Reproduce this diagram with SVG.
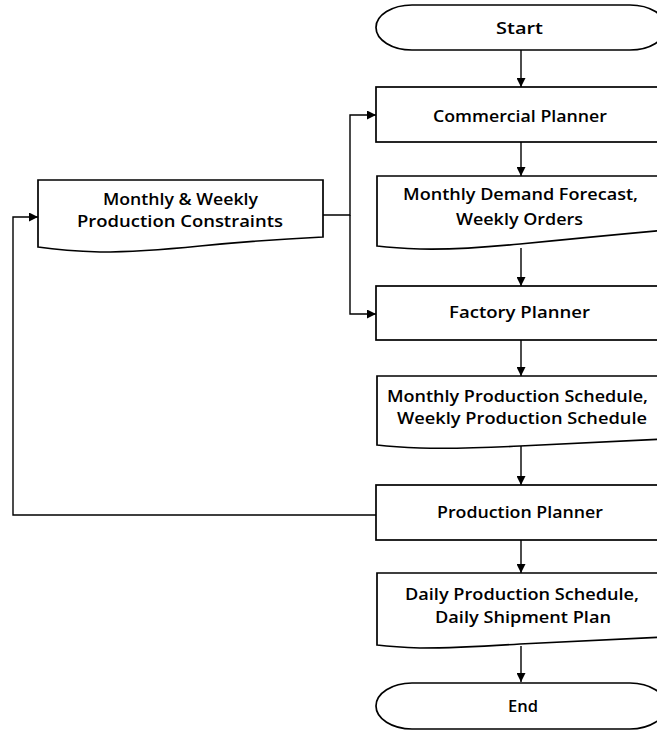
<svg xmlns="http://www.w3.org/2000/svg" width="657" height="731" viewBox="0 0 657 731">
<style>
.s{fill:#fff;stroke:#000;stroke-width:1.7}
.c{fill:none;stroke:#000;stroke-width:1.4}
text{font-family:"Open Sans","Liberation Sans",Arial,sans-serif;font-weight:600;font-size:17px;text-anchor:middle;fill:#000}
</style>
<defs>
<marker id="a" viewBox="0 0 10 10" refX="10" refY="5" markerWidth="9" markerHeight="9" markerUnits="userSpaceOnUse" orient="auto">
<path d="M0,0 L10,5 L0,10 Z" fill="#000"/>
</marker>
</defs>
<g id="connectors">
<line class="c" x1="521" y1="50" x2="521" y2="87" marker-end="url(#a)"/>
<line class="c" x1="521" y1="142" x2="521" y2="176" marker-end="url(#a)"/>
<line class="c" x1="521" y1="248" x2="521" y2="286" marker-end="url(#a)"/>
<line class="c" x1="521" y1="340" x2="521" y2="376" marker-end="url(#a)"/>
<line class="c" x1="521" y1="446" x2="521" y2="485" marker-end="url(#a)"/>
<line class="c" x1="521" y1="540" x2="521" y2="573" marker-end="url(#a)"/>
<line class="c" x1="521" y1="646" x2="521" y2="682" marker-end="url(#a)"/>
<polyline class="c" points="323,215 350,215 350,115 376,115" marker-end="url(#a)"/>
<polyline class="c" points="350,215 350,314 376,314" marker-end="url(#a)"/>
<polyline class="c" points="376,515 13,515 13,217 38,217" marker-end="url(#a)"/>
</g>
<g id="start">
<rect class="s" x="376" y="5" width="290" height="45" rx="36" ry="22.5"/>
<text x="519.5" y="34" textLength="47" lengthAdjust="spacingAndGlyphs">Start</text>
</g>
<g id="commercial-planner">
<rect class="s" x="376" y="87" width="290" height="55"/>
<text x="520" y="122" textLength="174" lengthAdjust="spacingAndGlyphs">Commercial Planner</text>
</g>
<g id="demand-forecast">
<path class="s" d="M377,176 H666 V230 Q600,236 520,244 Q460,250 420,249 Q395,248 377,246 Z"/>
<text x="520.5" y="200" textLength="235" lengthAdjust="spacingAndGlyphs">Monthly Demand Forecast,</text>
<text x="519.5" y="225" textLength="127" lengthAdjust="spacingAndGlyphs">Weekly Orders</text>
</g>
<g id="factory-planner">
<rect class="s" x="376" y="286" width="290" height="54"/>
<text x="519.5" y="318" textLength="141" lengthAdjust="spacingAndGlyphs">Factory Planner</text>
</g>
<g id="production-schedule">
<path class="s" d="M377,376 H666 V439 Q600,442 520,446 Q460,449 420,448 Q395,447 377,445 Z"/>
<text x="517.5" y="402" textLength="261" lengthAdjust="spacingAndGlyphs">Monthly Production Schedule,</text>
<text x="522" y="424" textLength="250" lengthAdjust="spacingAndGlyphs">Weekly Production Schedule</text>
</g>
<g id="production-planner">
<rect class="s" x="376" y="485" width="290" height="55"/>
<text x="520" y="518" textLength="166" lengthAdjust="spacingAndGlyphs">Production Planner</text>
</g>
<g id="daily-schedule">
<path class="s" d="M377,573 H666 V637 Q600,640 520,644 Q460,648 420,648 Q395,647 377,645 Z"/>
<text x="522" y="600" textLength="234" lengthAdjust="spacingAndGlyphs">Daily Production Schedule,</text>
<text x="523" y="623" textLength="176" lengthAdjust="spacingAndGlyphs">Daily Shipment Plan</text>
</g>
<g id="end">
<rect class="s" x="376" y="683" width="290" height="46" rx="36" ry="23"/>
<text x="523" y="712" textLength="30" lengthAdjust="spacingAndGlyphs">End</text>
</g>
<g id="constraints">
<path class="s" d="M38,180 H323 V237 Q260,240 200,246 Q140,252 100,252 Q65,251 38,247 Z"/>
<text x="180.5" y="205" textLength="155" lengthAdjust="spacingAndGlyphs">Monthly &amp; Weekly</text>
<text x="180" y="227" textLength="206" lengthAdjust="spacingAndGlyphs">Production Constraints</text>
</g>
</svg>
